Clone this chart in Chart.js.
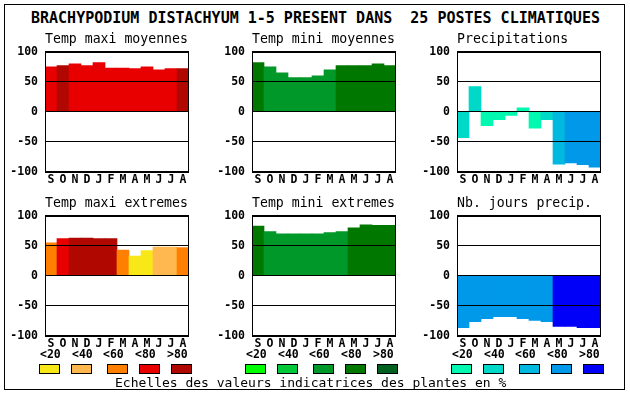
<!DOCTYPE html>
<html lang="fr">
<head>
<meta charset="utf-8">
<title>Brachypodium distachyum</title>
<script src="https://cdn.jsdelivr.net/npm/chart.js@4.4.0/dist/chart.umd.min.js"></script>
<style>
    html, body { margin: 0; padding: 0; background: #fff; }
    body {
        width: 630px; height: 394px; position: relative; overflow: hidden;
        font-family: "DejaVu Sans Mono", monospace; color: #000;
    }
    .frame {
        position: absolute; left: 4px; top: 4px; width: 621px; height: 386px;
        box-sizing: border-box; border: 1px solid #000;
    }
    .main-title {
        position: absolute; left: 31px; top: 11px; white-space: pre;
        font-size: 15px; line-height: 15px; font-weight: bold;
    }
    canvas.panel { position: absolute; }
    .scale-label {
        position: absolute; top: 349px; white-space: pre;
        font-size: 11.5px; line-height: 11.5px; font-weight: bold;
    }
    .scale-box {
        position: absolute; top: 364px; width: 21px; height: 10px;
        box-sizing: border-box; border: 1px solid #000;
    }
    .footer {
        position: absolute; left: 115px; top: 376px; white-space: pre;
        font-size: 13px; line-height: 13px;
    }
</style>
</head>
<body>
<div class="frame"></div>
<div class="main-title">BRACHYPODIUM DISTACHYUM 1-5 PRESENT DANS  25 POSTES CLIMATIQUES</div>
<canvas class="panel" id="maxiMoy" width="195" height="162"></canvas>
<canvas class="panel" id="miniMoy" width="195" height="162"></canvas>
<canvas class="panel" id="precip" width="195" height="162"></canvas>
<canvas class="panel" id="maxiExt" width="195" height="162"></canvas>
<canvas class="panel" id="miniExt" width="195" height="162"></canvas>
<canvas class="panel" id="jours" width="195" height="162"></canvas>
<div id="scales"></div>
<div class="footer">Echelles des valeurs indicatrices des plantes en %</div>

<script>
// Months, september to august
const MONTHS = ['S', 'O', 'N', 'D', 'J', 'F', 'M', 'A', 'M', 'J', 'J', 'A'];
const Y_TICKS = [-100, -50, 0, 50, 100];
const SCALE_LABELS = ['<20', '<40', '<60', '<80', '>80'];

// Values (%) and colour class (0..4) for each panel
const maxiMoyValues = [75, 77, 80, 77, 82, 73, 73, 72, 75, 70, 72, 72];
const maxiMoyLevels = [3, 4, 3, 3, 3, 3, 3, 3, 3, 3, 3, 4];
const miniMoyValues = [82, 75, 65, 57, 57, 60, 70, 77, 77, 77, 80, 77];
const miniMoyLevels = [3, 2, 2, 2, 2, 2, 2, 3, 3, 3, 3, 3];
const precipValues = [-43, 42, -23, -13, -6, 7, -27, -13, -87, -85, -88, -92];
const precipLevels = [1, 1, 0, 0, 0, 0, 0, 1, 2, 3, 3, 3];
const maxiExtValues = [55, 62, 63, 63, 62, 62, 43, 33, 42, 48, 48, 47];
const maxiExtLevels = [2, 3, 4, 4, 4, 4, 2, 0, 0, 1, 1, 2];
const miniExtValues = [83, 74, 70, 70, 70, 70, 72, 74, 80, 85, 84, 84];
const miniExtLevels = [3, 2, 2, 2, 2, 2, 2, 2, 3, 3, 3, 3];
const joursValues = [-86, -76, -71, -68, -68, -71, -74, -76, -84, -84, -86, -86];
const joursLevels = [3, 3, 3, 3, 3, 3, 3, 3, 4, 4, 4, 4];

// Colour scales
const WARM = ['#F8E818', '#FFB850', '#FF8000', '#E80000', '#B00800'];
const GREEN = ['#00FF00', '#00C838', '#009828', '#007800', '#006020'];
const BLUE = ['#00F8B0', '#00D8C8', '#00B8E0', '#0098E8', '#0000F8'];

const FONT = '"DejaVu Sans Mono", monospace';

// Draws the box around the plot area
const framePlugin = {
    id: 'frame',
    afterDraw(chart) {
        const a = chart.chartArea;
        const ctx = chart.ctx;
        ctx.save();
        ctx.strokeStyle = '#000';
        ctx.lineWidth = 1;
        ctx.strokeRect(Math.round(a.left) + 0.5, Math.round(a.top) + 0.5,
            Math.round(a.right - a.left) - 1, Math.round(a.bottom - a.top) - 1);
        ctx.restore();
    }
};

function makePanel(id, title, values, levels, palette, left, top) {
    const canvas = document.getElementById(id);
    canvas.style.left = left + 'px';
    canvas.style.top = top + 'px';

    new Chart(canvas, {
        type: 'bar',
        data: {
            labels: MONTHS,
            datasets: [{
                data: values,
                backgroundColor: levels.map(l => palette[l]),
                borderWidth: 0,
                categoryPercentage: 1,
                barPercentage: 1
            }]
        },
        options: {
            responsive: false,
            animation: false,
            layout: { padding: { left: 0, right: 6, top: 0, bottom: 0 } },
            plugins: {
                legend: { display: false },
                tooltip: { enabled: false },
                title: {
                    display: true,
                    text: title,
                    color: '#000',
                    align: 'start',
                    fullSize: false,
                    font: { family: FONT, size: 13.2, weight: 'normal' },
                    padding: { top: 6, bottom: 4 }
                }
            },
            scales: {
                x: {
                    grid: { display: false, drawTicks: false },
                    border: { display: false },
                    ticks: {
                        color: '#000',
                        font: { family: FONT, size: 11.5, weight: 'bold' },
                        padding: 1,
                        maxRotation: 0,
                        autoSkip: false
                    },
                    afterFit(scale) { scale.height = 16; }
                },
                y: {
                    min: -100,
                    max: 100,
                    afterBuildTicks(scale) {
                        scale.ticks = Y_TICKS.map(v => ({ value: v }));
                    },
                    grid: { color: '#000', lineWidth: 1, drawTicks: false, z: 1 },
                    border: { color: '#000', width: 1, z: 1 },
                    ticks: {
                        color: '#000',
                        font: { family: FONT, size: 11.5, weight: 'bold' },
                        padding: 7
                    },
                    afterFit(scale) { scale.width = 45; }
                }
            }
        },
        plugins: [framePlugin]
    });
}

document.addEventListener('DOMContentLoaded', function() {
    makePanel('maxiMoy', 'Temp maxi moyennes', maxiMoyValues, maxiMoyLevels, WARM, 0, 26);
    makePanel('miniMoy', 'Temp mini moyennes', miniMoyValues, miniMoyLevels, GREEN, 207, 26);
    makePanel('precip', 'Precipitations', precipValues, precipLevels, BLUE, 412, 26);
    makePanel('maxiExt', 'Temp maxi extremes', maxiExtValues, maxiExtLevels, WARM, 0, 190);
    makePanel('miniExt', 'Temp mini extremes', miniExtValues, miniExtLevels, GREEN, 207, 190);
    makePanel('jours', 'Nb. jours precip.', joursValues, joursLevels, BLUE, 412, 190);

    // Colour scale keys under each column
    const holder = document.getElementById('scales');
    const boxOffsets = [0, 32, 68, 100, 132];
    [[39, WARM], [245, GREEN], [451, BLUE]].forEach(([x0, palette]) => {
        palette.forEach((colour, i) => {
            const bx = x0 + boxOffsets[i];
            const label = document.createElement('div');
            label.className = 'scale-label';
            label.textContent = SCALE_LABELS[i];
            label.style.left = (i < 2 ? bx + 1 : bx - 4) + 'px';
            holder.appendChild(label);

            const box = document.createElement('div');
            box.className = 'scale-box';
            box.style.left = bx + 'px';
            box.style.background = colour;
            holder.appendChild(box);
        });
    });
});
</script>
</body>
</html>
